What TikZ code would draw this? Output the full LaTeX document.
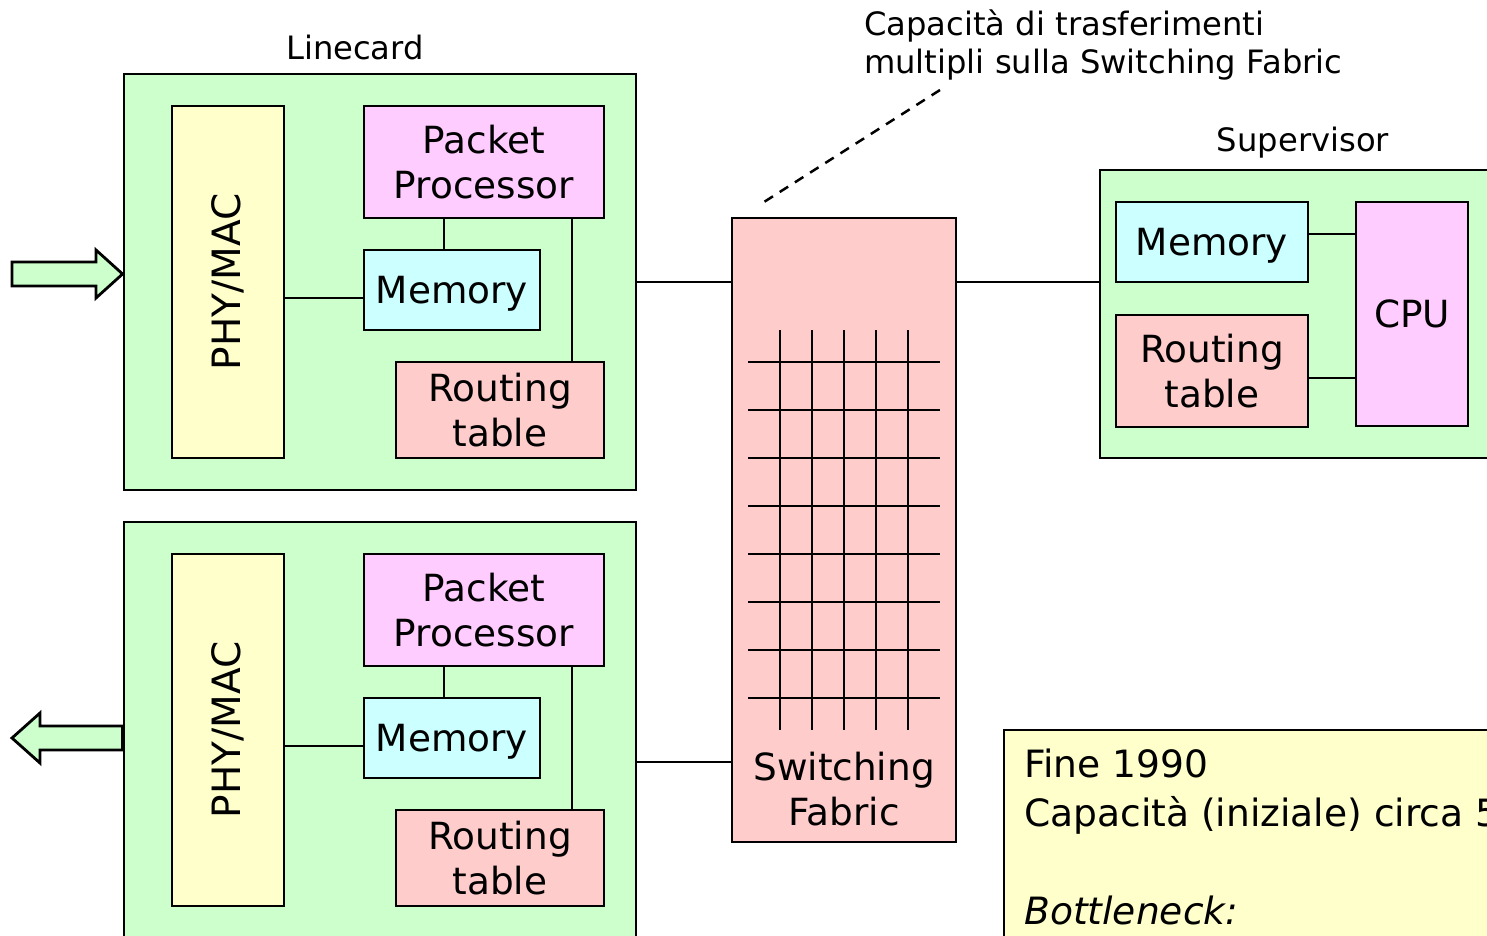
\documentclass[tikz,border=0pt]{standalone}
\usepackage{fontspec}
\setmainfont{DejaVu Sans}
\definecolor{cardgreen}{HTML}{CCFFCC}
\definecolor{phyyellow}{HTML}{FFFFCC}
\definecolor{procpink}{HTML}{FFCCFF}
\definecolor{memcyan}{HTML}{CCFFFF}
\definecolor{tablered}{HTML}{FFCCCC}
\newcommand\boxfont{\fontsize{37.4}{45}\selectfont}
\newcommand\phyfont{\fontsize{39}{45}\selectfont}
\newcommand\capfont{\fontsize{32.2}{38}\selectfont}
\newcommand\notefont{\fontsize{37.6}{49}\selectfont}
\tikzset{
  blk/.style={draw, line width=2.8pt, rectangle, inner sep=0pt, align=center, font=\boxfont},
  memblk/.style={blk, fill=memcyan, text depth=0pt},
  wire/.style={line width=2.8pt},
  gridline/.style={line width=2.5pt},
  fatarrow/.style={draw, line width=2.8pt, fill=cardgreen, line join=miter},
  caption/.style={inner sep=0pt, font=\capfont}
}
\begin{document}
\begin{tikzpicture}[x=1pt, y=-1pt]
\useasboundingbox (0,0) rectangle (1487,936);
\clip (0,0) rectangle (1487,936);

% ---- upper linecard ----
\node[blk, fill=cardgreen, minimum width=512pt, minimum height=416pt] (lc1) at (380,282) {};
\node[blk, fill=phyyellow, minimum width=112pt, minimum height=352pt, font=\phyfont] (phy1) at (228,282) {\rotatebox{90}{PHY/MAC}};
\node[blk, fill=procpink, minimum width=240pt, minimum height=112pt] (pp1) at (484,162) {Packet\\Processor};
\node[memblk, minimum width=176pt, minimum height=80pt] (mem1) at (452,290) {Memory};
\node[blk, fill=tablered, minimum width=208pt, minimum height=96pt] (rt1) at (500,410) {Routing\\table};
\node[caption] (lclabel) at (355,47) {Linecard};

\draw[wire] ([yshift=-8pt]mem1.west) -- ([yshift=-8pt]mem1.west -| phy1.east);
\draw[wire] (mem1.north -| 444,0) -- (pp1.south -| 444,0);
\draw[wire] (rt1.north -| 572,0) -- (pp1.south -| 572,0);

% ---- lower linecard ----
\node[blk, fill=cardgreen, minimum width=512pt, minimum height=416pt] (lc2) at (380,730) {};
\node[blk, fill=phyyellow, minimum width=112pt, minimum height=352pt, font=\phyfont] (phy2) at (228,730) {\rotatebox{90}{PHY/MAC}};
\node[blk, fill=procpink, minimum width=240pt, minimum height=112pt] (pp2) at (484,610) {Packet\\Processor};
\node[memblk, minimum width=176pt, minimum height=80pt] (mem2) at (452,738) {Memory};
\node[blk, fill=tablered, minimum width=208pt, minimum height=96pt] (rt2) at (500,858) {Routing\\table};

\draw[wire] ([yshift=-8pt]mem2.west) -- ([yshift=-8pt]mem2.west -| phy2.east);
\draw[wire] (mem2.north -| 444,0) -- (pp2.south -| 444,0);
\draw[wire] (rt2.north -| 572,0) -- (pp2.south -| 572,0);

% ---- input / output arrows ----
\draw[fatarrow] (12,262) -- (96,262) -- (96,250) -- (lc1.west |- 0,274) -- (96,298) -- (96,286) -- (12,286) -- cycle;
\draw[fatarrow] (lc2.west |- 0,726) -- (40,726) -- (40,713) -- (12,738) -- (40,763) -- (40,750) -- (lc2.west |- 0,750) -- cycle;

% ---- switching fabric ----
\node[blk, fill=tablered, minimum width=224pt, minimum height=624pt] (fab) at (844,530) {};
\foreach \gx in {780,812,844,876,908}
  \draw[gridline] (\gx,330) -- (\gx,730);
\foreach \gy in {362,410,458,506,554,602,650,698}
  \draw[gridline] (748,\gy) -- (940,\gy);
\node[inner sep=0pt, align=center, font=\boxfont] (fablabel) at (844,789) {Switching\\Fabric};

\draw[wire] (lc1.east) -- (lc1.east -| fab.west);
\draw[wire] ([yshift=-32pt]lc2.east) -- ([yshift=-32pt]lc2.east -| fab.west);

% ---- supervisor ----
\node[blk, fill=cardgreen, minimum width=400pt, minimum height=288pt] (sup) at (1300,314) {};
\node[memblk, minimum width=192pt, minimum height=80pt] (smem) at (1212,242) {Memory};
\node[blk, fill=tablered, minimum width=192pt, minimum height=112pt] (srt) at (1212,371) {Routing\\table};
\node[blk, fill=procpink, minimum width=112pt, minimum height=224pt] (cpu) at (1412,314) {CPU};
\node[caption] (suplabel) at (1303,143) {Supervisor};

\draw[wire] ([yshift=8pt]smem.east) -- ([yshift=8pt]smem.east -| cpu.west);
\draw[wire] ([yshift=-7pt]srt.east) -- ([yshift=-7pt]srt.east -| cpu.west);
\draw[wire] ([yshift=32pt]sup.west) -- ([yshift=32pt]sup.west -| fab.east);

% ---- annotation on the fabric ----
\node[caption, anchor=north west, align=left] (note) at (864,10) {Capacità di trasferimenti\\multipli sulla Switching Fabric};
\coordinate (dashtop) at (940,90);
\coordinate (dashbot) at (764,202);
\draw[line width=2.5pt, dash pattern=on 10pt off 8pt] (dashtop) -- (dashbot);

% ---- remark box ----
\node[draw, line width=2.8pt, fill=phyyellow, minimum width=496pt, minimum height=220pt, inner sep=0pt] (remark) at (1252,840) {};
\node[inner sep=0pt, anchor=north west, align=left, font=\notefont] (remarktext) at (1024,749)
  {Fine 1990\\Capacità (iniziale) circa 5\\\mbox{}\\\textit{Bottleneck:}};
\end{tikzpicture}
\end{document}
